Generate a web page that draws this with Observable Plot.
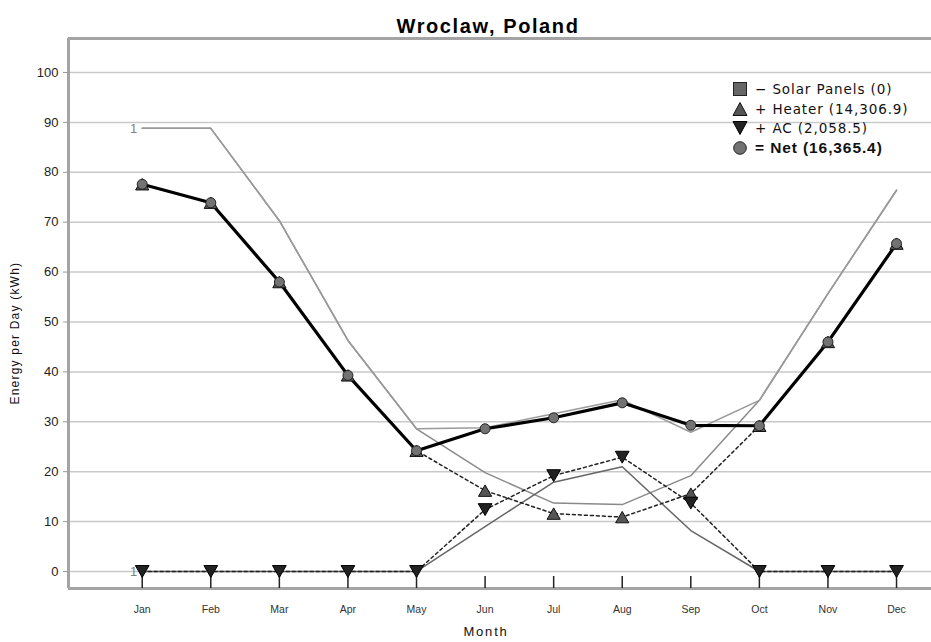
<!DOCTYPE html>
<html>
<head>
<meta charset="utf-8">
<script src="https://cdn.jsdelivr.net/npm/d3@7"></script>
<script src="https://cdn.jsdelivr.net/npm/@observablehq/plot@0.6"></script>
<style>
  html, body { margin: 0; padding: 0; background: white; }
  #wrap { position: relative; width: 931px; height: 642px; overflow: hidden; }
  #legend { position: absolute; left: 732px; top: 79px; font-family: "DejaVu Sans", Verdana, sans-serif; font-size: 13.5px; letter-spacing: 0.9px; color: #111; }
  .row { display: flex; align-items: center; height: 19.7px; white-space: nowrap; }
  .row svg { width: 16px; height: 16px; margin-right: 7px; flex: none; }
  .row.net span { font-family: "Liberation Sans", Arial, sans-serif; font-weight: bold; font-size: 15.5px; letter-spacing: 0.9px; }
</style>
</head>
<body>
<div id="wrap"></div>
<script>
// ---- data ----
const months = ["Jan","Feb","Mar","Apr","May","Jun","Jul","Aug","Sep","Oct","Nov","Dec"];
const net    = [77.6, 73.9, 58.0, 39.3, 24.2, 28.6, 30.8, 33.8, 29.3, 29.2, 46.0, 65.7];
const heater = [77.6, 73.9, 58.0, 39.3, 24.2, 16.2, 11.6, 10.9, 15.6, 29.2, 46.0, 65.7];
const ac     = [0, 0, 0, 0, 0, 12.4, 19.2, 22.9, 13.7, 0, 0, 0];
const heaterRef = [88.8, 88.8, 70.3, 46.3, 28.6, 19.8, 13.7, 13.4, 19.2, 34.3, 55.7, 76.4];
const acRef     = [0, 0, 0, 0, 0, 9.0, 17.9, 21.0, 8.2, 0, 0, 0];
const netRef    = [88.8, 88.8, 70.3, 46.3, 28.6, 28.8, 31.6, 34.4, 27.9, 34.3, 55.7, 76.4];
const yTicks = [0, 10, 20, 30, 40, 50, 60, 70, 80, 90, 100];
const legendItems = [
  {sym: "square", label: "\u2212 Solar Panels (0)"},
  {sym: "up", label: "+ Heater (14,306.9)"},
  {sym: "down", label: "+ AC (2,058.5)"},
  {sym: "circle", label: "= Net (16,365.4)"}
];
const title = "Wroclaw, Poland";
const xTitle = "Month";
const yTitle = "Energy per Day (kWh)";
const refLabel = "1";

// ---- layout ----
const xMin = -1.075, xMax = 11.51;
const yMin = -3.41, yMax = 106.81;

const rows = months.map((m, i) => ({i, month: m, net: net[i], heater: heater[i], ac: ac[i],
  heaterRef: heaterRef[i], acRef: acRef[i], netRef: netRef[i]}));

const s3 = Math.sqrt(3);
const triUp = { draw(ctx, size) { const y = Math.sqrt(size / (s3 * 3)); ctx.moveTo(0, -1.5*y); ctx.lineTo(s3*y, 1.5*y); ctx.lineTo(-s3*y, 1.5*y); ctx.closePath(); } };
const triDown = { draw(ctx, size) { const y = Math.sqrt(size / (s3 * 3)); ctx.moveTo(0, 1.5*y); ctx.lineTo(-s3*y, -1.5*y); ctx.lineTo(s3*y, -1.5*y); ctx.closePath(); } };

const chart = Plot.plot({
  width: 931, height: 642,
  marginLeft: 68, marginRight: 0, marginTop: 38, marginBottom: 54,
  x: {domain: [xMin, xMax], axis: null},
  y: {domain: [yMin, yMax], axis: null},
  style: {fontFamily: "'Liberation Sans', Arial, sans-serif", background: "white", overflow: "visible"},
  marks: [
    Plot.ruleY(yTicks, {stroke: "#c9c9c9", strokeWidth: 1.5}),
    Plot.ruleX([xMin], {stroke: "#a4a4a4", strokeWidth: 3}),
    Plot.ruleY([yMin, yMax], {stroke: "#a4a4a4", strokeWidth: 3}),
    Plot.axisY(yTicks, {tickSize: 5, tickPadding: 5, fontSize: 13, label: null, stroke: "#999", fill: "#222"}),
    Plot.axisX(rows.map(d => d.i), {tickSize: 0, tickPadding: 17, fontSize: 10.5, label: null, tickFormat: i => months[i], fill: "#333"}),
    Plot.ruleX(rows, {x: "i", y1: yMin, y2: yMin + 2.4, stroke: "#222", strokeWidth: 1.5}),
    // reference (gray) lines
    Plot.line(rows, {x: "i", y: "heaterRef", stroke: "#8a8a8a", strokeWidth: 1.5}),
    Plot.line(rows, {x: "i", y: "netRef", stroke: "#9a9a9a", strokeWidth: 1.5}),
    Plot.line(rows, {x: "i", y: "acRef", stroke: "#666", strokeWidth: 1.5}),
    Plot.text(rows.slice(0, 1), {x: "i", y: "heaterRef", text: () => refLabel, textAnchor: "end", dx: -5, fontSize: 13, fill: "#808080"}),
    Plot.text(rows.slice(0, 1), {x: "i", y: "acRef", text: () => refLabel, textAnchor: "end", dx: -5, fontSize: 13, fill: "#808080"}),
    // dashed component lines
    Plot.line(rows, {x: "i", y: "heater", stroke: "#222", strokeWidth: 1.5, strokeDasharray: "3,3"}),
    Plot.line(rows, {x: "i", y: "ac", stroke: "#222", strokeWidth: 1.5, strokeDasharray: "3,3"}),
    // net line
    Plot.line(rows, {x: "i", y: "net", stroke: "#000", strokeWidth: 3.2}),
    // markers
    Plot.dot(rows, {x: "i", y: "heater", symbol: triUp, r: 4.9, fill: "#555", stroke: "#111", strokeWidth: 1}),
    Plot.dot(rows, {x: "i", y: "ac", symbol: triDown, r: 5.1, fill: "#222", stroke: "#000", strokeWidth: 1}),
    Plot.dot(rows, {x: "i", y: "net", r: 5, fill: "#727272", stroke: "#222", strokeWidth: 1}),
    // titles
    Plot.text([title], {frameAnchor: "top", dy: -20, dx: -12, fontSize: 20, fontWeight: "bold", fill: "#000"}),
    Plot.text([xTitle], {frameAnchor: "bottom", dy: 47, dx: -14, fontSize: 13, fill: "#111"}),
    Plot.text([yTitle], {frameAnchor: "left", dx: -53, dy: 91, rotate: -90, fontSize: 12, fill: "#111"})
  ]
});
document.getElementById("wrap").appendChild(chart);

// letter spacing for titles
chart.querySelectorAll("text").forEach(t => {
  if (t.textContent === xTitle) t.setAttribute("letter-spacing", "1.8");
  if (t.textContent === yTitle) t.setAttribute("letter-spacing", "1.2");
  if (t.textContent === title) t.setAttribute("letter-spacing", "1.6");
});

// legend
const legend = document.createElement("div");
legend.id = "legend";
const symPath = {
  square: '<rect x="1.5" y="1.5" width="13" height="13" fill="#666" stroke="#222" stroke-width="1"/>',
  up: '<path d="M8,1.5 L15,14.5 L1,14.5 Z" fill="#555" stroke="#111" stroke-width="1"/>',
  down: '<path d="M8,14.5 L15,1.5 L1,1.5 Z" fill="#222" stroke="#000" stroke-width="1"/>',
  circle: '<circle cx="8" cy="8" r="6.3" fill="#727272" stroke="#222" stroke-width="1"/>'
};
legendItems.forEach(it => {
  const r = document.createElement("div");
  r.className = "row" + (it.sym === "circle" ? " net" : "");
  r.innerHTML = '<svg viewBox="0 0 16 16">' + symPath[it.sym] + '</svg><span></span>';
  r.querySelector("span").textContent = it.label;
  legend.appendChild(r);
});
document.getElementById("wrap").appendChild(legend);
</script>
</body>
</html>
